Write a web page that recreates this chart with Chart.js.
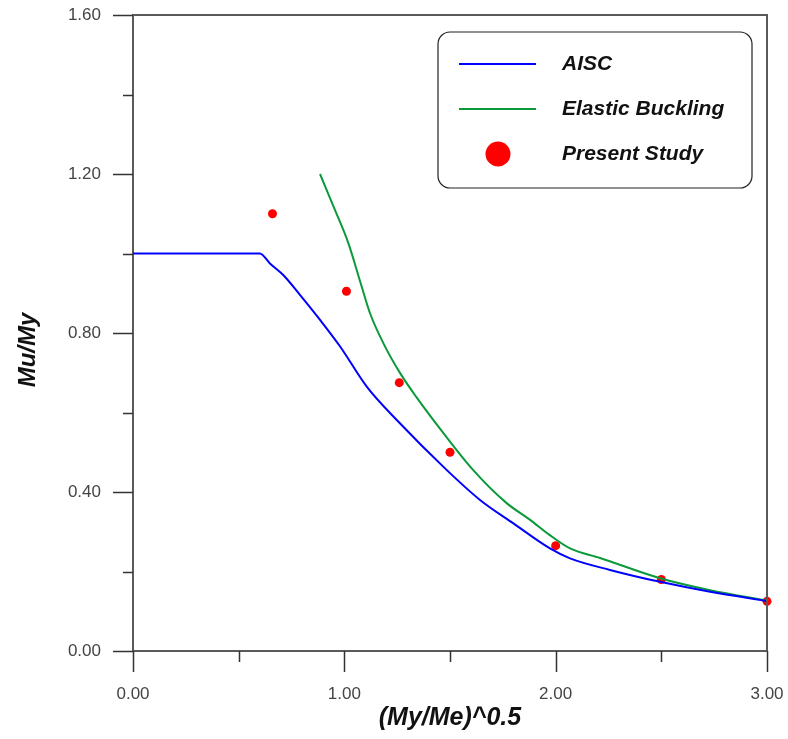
<!DOCTYPE html>
<html>
<head>
<meta charset="utf-8">
<script src="https://cdn.jsdelivr.net/npm/chart.js@4/dist/chart.umd.min.js"></script>
<style>
  html, body { margin: 0; padding: 0; background: #fff; }
  #wrap { width: 788px; height: 739px; }
</style>
</head>
<body>
<div id="wrap"><canvas id="chart" width="788" height="739"></canvas></div>
<script>
// AISC design curve
const aiscX = [0, 0.60, 0.648, 0.711, 0.790, 0.885, 0.980, 1.106, 1.248, 1.485, 1.642, 1.800, 1.973, 2.068, 2.257, 2.494, 2.731, 3.00];
const aiscY = [1.0, 1.0, 0.975, 0.946, 0.896, 0.833, 0.766, 0.665, 0.581, 0.455, 0.380, 0.321, 0.258, 0.233, 0.204, 0.174, 0.149, 0.126];

// Elastic buckling curve
const elasticX = [0.885, 0.956, 1.019, 1.082, 1.122, 1.185, 1.264, 1.342, 1.469, 1.610, 1.768, 1.879, 1.971, 2.068, 2.21, 2.494, 2.731, 3.00];
const elasticY = [1.20, 1.109, 1.026, 0.917, 0.849, 0.774, 0.699, 0.638, 0.548, 0.455, 0.372, 0.330, 0.292, 0.258, 0.234, 0.183, 0.153, 0.127];

// Present study results
const studyX = [0.66, 1.01, 1.26, 1.50, 2.00, 2.50, 3.00];
const studyY = [1.10, 0.905, 0.675, 0.50, 0.265, 0.18, 0.125];

// Axis ticks
const xMajor = [0, 1, 2, 3];
const xMinor = [0.5, 1.5, 2.5];
const yMajor = [0, 0.4, 0.8, 1.2, 1.6];
const yMinor = [0.2, 0.6, 1.0, 1.4];

const axisColor = '#5a5a5a';
const tickFont = { family: 'Liberation Sans, Arial, sans-serif', size: 17 };

function toPoints(xs, ys) {
    return xs.map((x, i) => ({ x: x, y: ys[i] }));
}

// Frame, minor/major tick marks, axis titles and boxed legend
const decorPlugin = {
    id: 'decor',
    afterDraw(chart) {
        const ctx = chart.ctx;
        const area = chart.chartArea;
        const xs = chart.scales.x;
        const ys = chart.scales.y;

        ctx.save();
        ctx.strokeStyle = axisColor;
        ctx.lineWidth = 2;
        ctx.beginPath();
        ctx.moveTo(area.left, area.top);
        ctx.lineTo(area.right, area.top);
        ctx.lineTo(area.right, area.bottom);
        ctx.stroke();

        ctx.lineWidth = 1.5;
        ctx.strokeStyle = '#333';
        ctx.beginPath();
        yMajor.forEach(v => {
            const py = Math.round(ys.getPixelForValue(v)) + 0.5;
            ctx.moveTo(area.left - 20, py);
            ctx.lineTo(area.left, py);
        });
        yMinor.forEach(v => {
            const py = Math.round(ys.getPixelForValue(v)) + 0.5;
            ctx.moveTo(area.left - 10, py);
            ctx.lineTo(area.left, py);
        });
        xMajor.forEach(v => {
            const px = Math.round(xs.getPixelForValue(v)) + 0.5;
            ctx.moveTo(px, area.bottom);
            ctx.lineTo(px, area.bottom + 21);
        });
        xMinor.forEach(v => {
            const px = Math.round(xs.getPixelForValue(v)) + 0.5;
            ctx.moveTo(px, area.bottom);
            ctx.lineTo(px, area.bottom + 11);
        });
        ctx.stroke();

        // axis titles
        ctx.fillStyle = '#111';
        ctx.font = 'italic bold 25px Liberation Sans, Arial, sans-serif';
        ctx.textAlign = 'center';
        ctx.textBaseline = 'middle';
        ctx.fillText('(My/Me)^0.5', (area.left + area.right) / 2, 718);
        ctx.save();
        ctx.font = 'italic bold 24px Liberation Sans, Arial, sans-serif';
        ctx.translate(28, 350);
        ctx.rotate(-Math.PI / 2);
        ctx.fillText('Mu/My', 0, 0);
        ctx.restore();

        // legend box
        const bx = 438, by = 32, bw = 314, bh = 156, r = 12;
        ctx.strokeStyle = '#222';
        ctx.lineWidth = 1.2;
        ctx.beginPath();
        ctx.roundRect(bx, by, bw, bh, r);
        ctx.fillStyle = '#fff';
        ctx.fill();
        ctx.stroke();

        const rows = [64, 109, 154];
        chart.data.datasets.forEach((ds, i) => {
            const cy = rows[i];
            if (ds.showLine) {
                ctx.strokeStyle = ds.borderColor;
                ctx.lineWidth = 2;
                ctx.beginPath();
                ctx.moveTo(459, cy);
                ctx.lineTo(536, cy);
                ctx.stroke();
            } else {
                ctx.fillStyle = ds.backgroundColor;
                ctx.beginPath();
                ctx.arc(498, cy, 12.5, 0, Math.PI * 2);
                ctx.fill();
            }
            ctx.fillStyle = '#111';
            ctx.font = 'italic bold 21px Liberation Sans, Arial, sans-serif';
            ctx.textAlign = 'left';
            ctx.fillText(ds.label, 562, cy);
        });
        ctx.restore();
    }
};

new Chart(document.getElementById('chart').getContext('2d'), {
    type: 'scatter',
    data: {
        datasets: [
            {
                label: 'AISC',
                data: toPoints(aiscX, aiscY),
                showLine: true,
                borderColor: '#0000ff',
                borderWidth: 2,
                pointRadius: 0,
                cubicInterpolationMode: 'monotone'
            },
            {
                label: 'Elastic Buckling',
                data: toPoints(elasticX, elasticY),
                showLine: true,
                borderColor: '#0a9a3a',
                borderWidth: 2,
                pointRadius: 0,
                cubicInterpolationMode: 'monotone'
            },
            {
                label: 'Present Study',
                data: toPoints(studyX, studyY),
                showLine: false,
                backgroundColor: '#ff0000',
                borderWidth: 0,
                pointRadius: 4.5,
                clip: false
            }
        ]
    },
    options: {
        responsive: false,
        animation: false,
        layout: { padding: { top: 15, right: 21, left: 0, bottom: 0 } },
        plugins: {
            legend: { display: false },
            tooltip: { enabled: false }
        },
        scales: {
            x: {
                type: 'linear',
                min: 0,
                max: 3,
                afterFit: scale => {
                    scale.height = 88;
                    scale.paddingLeft = 0;
                    scale.paddingRight = 0;
                },
                ticks: {
                    stepSize: 1,
                    color: '#444',
                    font: tickFont,
                    padding: 33,
                    callback: v => v.toFixed(2)
                },
                grid: { drawOnChartArea: false, drawTicks: false },
                border: { display: true, color: axisColor, width: 2 }
            },
            y: {
                min: 0,
                max: 1.6,
                afterFit: scale => {
                    scale.width = 133;
                    scale.paddingTop = 0;
                    scale.paddingBottom = 0;
                },
                ticks: {
                    stepSize: 0.4,
                    color: '#444',
                    font: tickFont,
                    padding: 32,
                    callback: v => v.toFixed(2)
                },
                grid: { drawOnChartArea: false, drawTicks: false },
                border: { display: true, color: axisColor, width: 2 }
            }
        }
    },
    plugins: [decorPlugin]
});
</script>
</body>
</html>
